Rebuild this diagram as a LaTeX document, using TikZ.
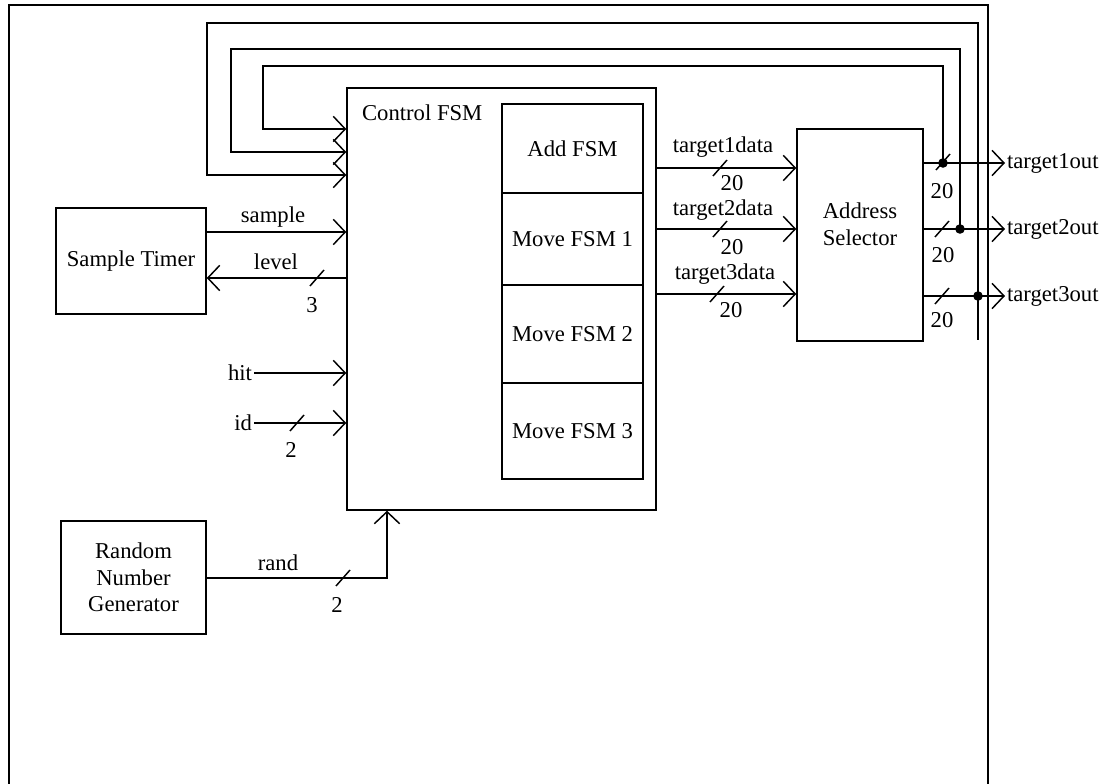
\documentclass[tikz,border=0pt]{standalone}
\usepackage{fontspec}
\setmainfont{Liberation Serif}
\usetikzlibrary{arrows.meta}
\tikzset{
  busmark/.pic={\draw (-7,8) -- (7,-8);},
  box/.style n args={2}{draw, rectangle, inner sep=0pt, minimum width={#1*0.75pt}, minimum height={#2*0.75pt}},
  arr/.style={-{Straight Barb[length=9pt,width=19pt]}},
  txt/.style={inner sep=1pt},
}
\begin{document}
\begin{tikzpicture}[x=0.75pt,y=-0.75pt, line width=1.1pt,
  every node/.style={font=\fontsize{17}{20}\selectfont}]
\useasboundingbox (0,0) rectangle (1117,784);
% frame
\draw (9,784) -- (9,5) -- (988,5) -- (988,784);
% blocks
\node[box={309}{422}] (ctrl) at (501.5,299) {};
\node[txt, anchor=west] (ctrlt) at (360,113) {Control FSM};
\node[box={141}{89}] (addf) at (572.5,148.5) {Add FSM};
\node[box={141}{92}] (mv1) at (572.5,239) {Move FSM 1};
\node[box={141}{98}] (mv2) at (572.5,334) {Move FSM 2};
\node[box={141}{96}] (mv3) at (572.5,431) {Move FSM 3};
\node[box={126}{212}] (addr) at (860,235) {};
\node[txt, align=center] (addrt) at (860,224) {Address\\Selector};
\node[box={150}{106}] (st) at (131,261) {Sample Timer};
\node[box={145}{113}, align=center] (rng) at (133.5,577.5) {Random\\Number\\Generator};
% input labels
\node[txt, anchor=east] (hit) at (254,373) {hit};
\node[txt, anchor=east] (id) at (254,423) {id};
% output labels
\node[txt, anchor=west] (t1o) at (1005,163) {target1out};
\node[txt, anchor=west] (t2o) at (1005,229) {target2out};
\node[txt, anchor=west] (t3o) at (1005,296) {target3out};
% sample / level
\draw[arr] (st.east |- 0,232) -- (ctrl.west |- 0,232);
\node[txt] (smp) at (273,217) {sample};
\draw[arr] (ctrl.west |- 0,278) -- (st.east |- 0,278);
\node[txt] (lvl) at (276,262) {level};
\pic at (317,278) {busmark};
\node[txt] (n3) at (312,305) {3};
% hit / id
\draw[arr] (hit.east) -- (ctrl.west |- hit.east);
\draw[arr] (id.east) -- (ctrl.west |- id.east);
\pic at (297,423) {busmark};
\node[txt] (n2a) at (291,450) {2};
% rand
\draw[arr] (rng.east |- 0,578) -| (ctrl.south -| 387,0);
\node[txt] (rnd) at (278,563) {rand};
\pic at (343,578) {busmark};
\node[txt] (n2b) at (337,605) {2};
% data lines
\draw[arr] (ctrl.east |- 0,168) -- (addr.west |- 0,168);
\node[txt] (d1) at (723,147) {target1data};
\pic at (720,168) {busmark};
\node[txt] (w1) at (732,183) {20};
\draw[arr] (ctrl.east |- 0,229) -- (addr.west |- 0,229);
\node[txt] (d2) at (723,210) {target2data};
\pic at (720,229) {busmark};
\node[txt] (w2) at (732,247) {20};
\draw[arr] (ctrl.east |- 0,294) -- (addr.west |- 0,294);
\node[txt] (d3) at (725,274) {target3data};
\pic at (717,294) {busmark};
\node[txt] (w3) at (731,310) {20};
% outputs
\draw[arr] (addr.east |- t1o.west) -- (t1o.west);
\draw[arr] (addr.east |- t2o.west) -- (t2o.west);
\draw[arr] (addr.east |- t3o.west) -- (t3o.west);
\pic at (943,162) {busmark};
\pic at (942,229) {busmark};
\pic at (942,296) {busmark};
\node[txt] (o1) at (942,191) {20};
\node[txt] (o2) at (943,255) {20};
\node[txt] (o3) at (942,320) {20};
% junctions and feedback
\coordinate (j1) at (943,163);
\coordinate (j2) at (960,229);
\coordinate (j3) at (978,296);
\fill (j1) circle[radius=3.6pt];
\fill (j2) circle[radius=3.6pt];
\fill (j3) circle[radius=3.6pt];
\draw[arr] (j1) |- (263,66) |- (ctrl.west |- 0,129);
\draw[arr] (j2) |- (231,49) |- (ctrl.west |- 0,152);
\draw[arr] (j3) |- (207,23) |- (ctrl.west |- 0,175);
\draw (j3) -- (978,340);
\end{tikzpicture}
\end{document}
